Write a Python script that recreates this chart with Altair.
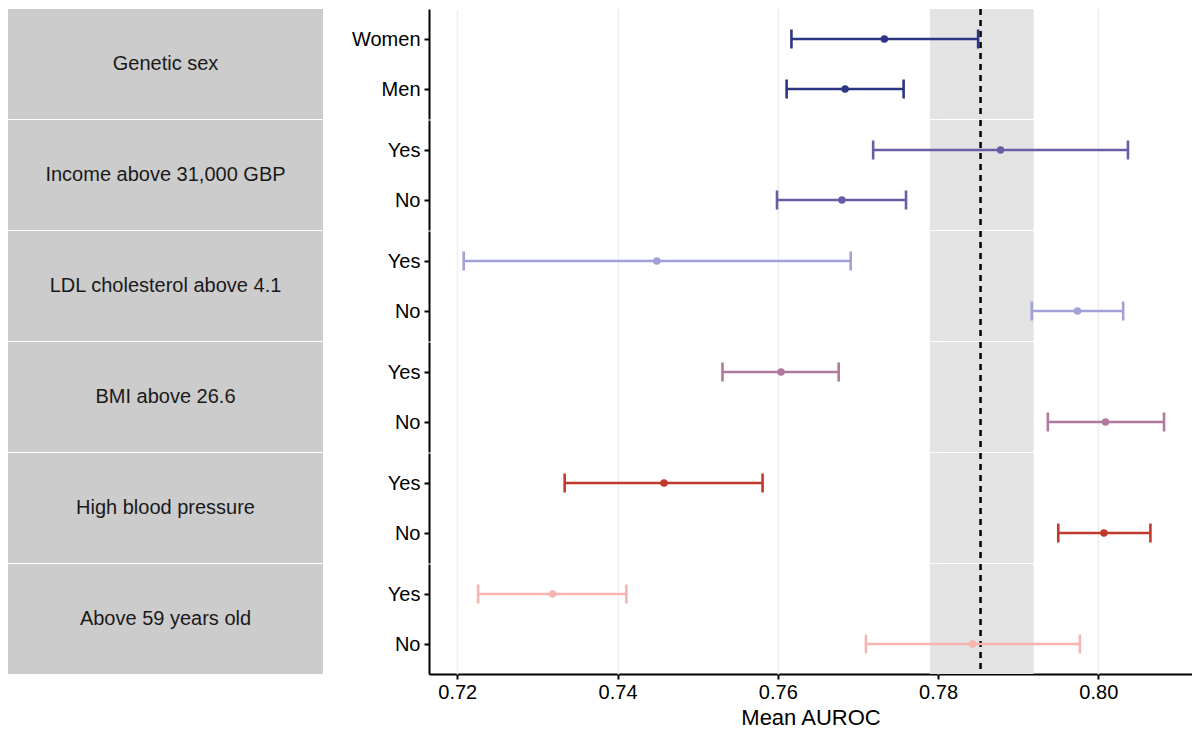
import altair as alt
import pandas as pd

# ---- data ----
groups = [
    "Genetic sex",
    "Income above 31,000 GBP",
    "LDL cholesterol above 4.1",
    "BMI above 26.6",
    "High blood pressure",
    "Above 59 years old",
]
group_levels = [
    ["Women", "Men"],
    ["Yes", "No"],
    ["Yes", "No"],
    ["Yes", "No"],
    ["Yes", "No"],
    ["Yes", "No"],
]
means = [0.7733, 0.7684, 0.7878, 0.7680, 0.7449, 0.7974,
         0.7604, 0.8009, 0.7458, 0.8007, 0.7319, 0.7843]
lower = [0.7617, 0.7611, 0.7719, 0.7599, 0.7208, 0.7917,
         0.7531, 0.7937, 0.7334, 0.7950, 0.7226, 0.7710]
upper = [0.7850, 0.7757, 0.8037, 0.7760, 0.7691, 0.8031,
         0.7676, 0.8082, 0.7581, 0.8065, 0.7411, 0.7977]
group_colors = ["#2E3582", "#6C5CA6", "#A29FD9", "#B07A9F", "#C0392B", "#F8B4AF"]
ref_line = 0.7853
ref_band = [0.7790, 0.7919]
x_ticks = [0.72, 0.74, 0.76, 0.78, 0.80]
level_order = ["Women", "Men", "Yes", "No"]

FONT = "Liberation Sans"
PANEL_W, PANEL_H, GAP = 763, 110, 1

rows = []
i = 0
for g, levs in zip(groups, group_levels):
    for lv in levs:
        rows.append({
            "group": g, "level": lv,
            "mean": means[i], "lower": lower[i], "upper": upper[i],
            "ref": ref_line, "band_lo": ref_band[0], "band_hi": ref_band[1],
        })
        i += 1
df = pd.DataFrame(rows)
strip_df = pd.DataFrame({"group": groups})

xscale = alt.Scale(domain=[0.71647, 0.81169], nice=False, zero=False)
color = alt.Color("group:N", scale=alt.Scale(domain=groups, range=group_colors), legend=None)
yenc = alt.Y(
    "level:N", sort=level_order,
    scale=alt.Scale(type="point", padding=0.6),
    axis=alt.Axis(title=None, grid=False, minExtent=81, maxExtent=81,
                  labelFontSize=20, labelPadding=4, tickSize=5),
)
xaxis = alt.Axis(values=x_ticks, format=".2f", title="Mean AUROC", titleFontSize=22,
                 titleFontWeight="normal", titlePadding=5, grid=True,
                 gridColor="#EFEFEF", gridWidth=1.6, labelFontSize=20, labelPadding=3,
                 tickSize=5)

base = alt.Chart(df)
band = base.mark_rect(color="#E3E3E3").encode(
    x=alt.X("band_lo:Q", scale=xscale, axis=xaxis), x2="band_hi:Q",
    y=alt.value(0), y2=alt.value(PANEL_H))
dash = base.mark_rule(color="black", strokeWidth=2, strokeDash=[6, 5]).encode(
    x=alt.X("ref:Q", scale=xscale))
bars = base.mark_rule(strokeWidth=2.6).encode(
    x=alt.X("lower:Q", scale=xscale), x2="upper:Q", y=yenc, color=color)
cap_lo = base.mark_tick(thickness=2.6, size=19, opacity=1).encode(
    x=alt.X("lower:Q", scale=xscale), y=yenc, color=color)
cap_hi = base.mark_tick(thickness=2.6, size=19, opacity=1).encode(
    x=alt.X("upper:Q", scale=xscale), y=yenc, color=color)
pts = base.mark_circle(size=56, opacity=1).encode(
    x=alt.X("mean:Q", scale=xscale), y=yenc, color=color)

panel = alt.layer(band, dash, bars, cap_lo, cap_hi, pts).properties(width=PANEL_W, height=PANEL_H)
faceted = panel.facet(
    row=alt.Row("group:N", sort=groups, header=alt.Header(labels=False, title=None)),
    spacing=GAP,
    bounds="flush",
).resolve_scale(y="independent")

strip_y = alt.Y("group:N", sort=groups, axis=None,
                scale=alt.Scale(paddingInner=1 / 111, paddingOuter=0))
strip_base = alt.Chart(strip_df)
strip = alt.layer(
    strip_base.mark_rect(color="#CCCCCC").encode(y=strip_y),
    strip_base.mark_text(font=FONT, fontSize=20, color="#1A1A1A").encode(y=strip_y, text="group:N"),
).properties(width=315, height=6 * PANEL_H + 5 * GAP)

chart = alt.hconcat(strip, faceted, spacing=25).properties(
    padding={"left": 0, "top": 0, "right": 0, "bottom": 0}
).configure_view(stroke=None).configure_axis(
    labelFont=FONT, titleFont=FONT, labelColor="black", titleColor="black",
    domainColor="black", domainWidth=2, tickColor="black", tickWidth=2,
).configure_text(font=FONT)

chart.save("out.html", embed_options={"renderer": "svg", "actions": False})
